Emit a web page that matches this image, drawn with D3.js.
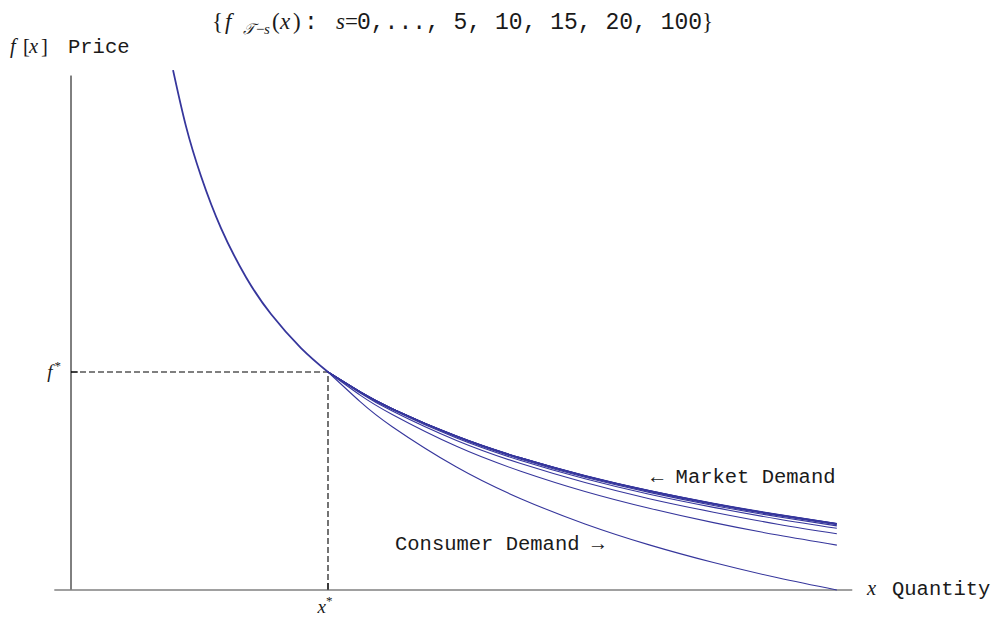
<!DOCTYPE html>
<html>
<head>
<meta charset="utf-8">
<script src="https://cdn.jsdelivr.net/npm/d3@7"></script>
<style>
  body { margin: 0; background: #fff; }
  svg { display: block; }
</style>
</head>
<body>
<svg id="chart" width="993" height="618"></svg>
<script>
// ---- data -------------------------------------------------------------
// Shared part of every demand curve, left of the kink (x* = 1, f* = 1)
const upperX = [0.397, 0.447, 0.506, 0.584, 0.681, 0.778, 0.895, 1];
const upperF = [2.385, 2.129, 1.898, 1.659, 1.435, 1.266, 1.11, 1];

// Quantity grid for the branches right of the kink
const branchX = [1, 1.125, 1.25, 1.5, 1.75, 2, 2.25, 2.5, 2.75, 2.98];

// Look-ahead horizons s and the price along each branch
const sValues = [0, 1, 2, 3, 4, 5, 10, 15, 20, 100];
const branchF0   = [1, 0.864, 0.749, 0.564, 0.419, 0.303, 0.207, 0.126, 0.056, 0.0];
const branchF1   = [1, 0.894, 0.805, 0.659, 0.545, 0.452, 0.375, 0.309, 0.252, 0.206];
const branchF2   = [1, 0.904, 0.821, 0.686, 0.580, 0.493, 0.419, 0.357, 0.302, 0.258];
const branchF3   = [1, 0.907, 0.827, 0.697, 0.594, 0.510, 0.439, 0.379, 0.326, 0.283];
const branchF4   = [1, 0.908, 0.830, 0.702, 0.600, 0.517, 0.448, 0.388, 0.336, 0.294];
const branchF5   = [1, 0.909, 0.831, 0.704, 0.603, 0.521, 0.452, 0.392, 0.341, 0.299];
const branchF10  = [1, 0.909, 0.832, 0.705, 0.605, 0.523, 0.454, 0.395, 0.344, 0.302];
const branchF15  = [1, 0.909, 0.832, 0.706, 0.606, 0.524, 0.455, 0.396, 0.345, 0.304];
const branchF20  = [1, 0.910, 0.832, 0.706, 0.606, 0.524, 0.456, 0.397, 0.346, 0.305];
const branchF100 = [1, 0.910, 0.832, 0.706, 0.606, 0.525, 0.456, 0.398, 0.347, 0.305];
const branches = [branchF0, branchF1, branchF2, branchF3, branchF4,
                  branchF5, branchF10, branchF15, branchF20, branchF100];

// Equilibrium point and axis tick labels
const xStar = 1, fStar = 1;
const xTickLabels = ["x"];
const yTickLabels = ["f"];
const sList = "0,..., 5, 10, 15, 20, 100";

// ---- layout ------------------------------------------------------------
const svg = d3.select("#chart");
const x = d3.scaleLinear().domain([0, 3]).range([71, 842]);
const y = d3.scaleLinear().domain([0, 2.39]).range([590, 69]);

const curveColor = "#36369c";
const mono = "'Nimbus Mono PS', 'Courier New', Courier, 'Liberation Mono', monospace";
const serif = "'Liberation Serif', 'Times New Roman', serif";
const ink = "#1a1a1a";

// axes
svg.append("line")
  .attr("x1", x(0)).attr("x2", x(0))
  .attr("y1", y(2.36)).attr("y2", y(0))
  .attr("stroke", "#000").attr("stroke-width", 1);
svg.append("line")
  .attr("x1", x(-0.065)).attr("x2", x(3.04))
  .attr("y1", y(0)).attr("y2", y(0))
  .attr("stroke", "#808080").attr("stroke-width", 1.6);

// equilibrium ticks
svg.append("line")
  .attr("x1", x(0)).attr("x2", x(0) + 7)
  .attr("y1", y(fStar)).attr("y2", y(fStar))
  .attr("stroke", "#000").attr("stroke-width", 1);
svg.append("line")
  .attr("x1", x(xStar)).attr("x2", x(xStar))
  .attr("y1", y(0)).attr("y2", y(0) - 7)
  .attr("stroke", "#000").attr("stroke-width", 1);

// dashed guides to the equilibrium
svg.append("path")
  .attr("d", `M${x(0)},${y(fStar)}H${x(xStar)}V${y(0)}`)
  .attr("fill", "none").attr("stroke", "#000")
  .attr("stroke-width", 1.1).attr("stroke-dasharray", "6,3");

// curves
const line = d3.line().x(d => x(d[0])).y(d => y(d[1])).curve(d3.curveNatural);
const g = svg.append("g").attr("fill", "none").attr("stroke", curveColor);
branches.forEach(fv => {
  g.append("path")
    .attr("d", line(branchX.map((v, i) => [v, fv[i]])))
    .attr("stroke-width", 1.1);
});
g.append("path")
  .attr("d", line(upperX.map((v, i) => [v, upperF[i]])))
  .attr("stroke-width", 1.8);

// ---- text --------------------------------------------------------------
// helper: a text run at an absolute x position
function run(parent, xPos, str, opts = {}) {
  const t = parent.append("tspan").attr("x", xPos).text(str);
  if (opts.family) t.attr("font-family", opts.family);
  if (opts.italic) t.attr("font-style", "italic");
  if (opts.size) t.attr("font-size", opts.size);
  if (opts.dy) t.attr("dy", opts.dy);
  return t;
}

// title: {f_{T-s}(x): s=0,..., 5, 10, 15, 20, 100}
const t0 = 212;
const adv = 13.8;   // monospace advance at 23px
const title = svg.append("text").attr("y", 29)
  .attr("font-family", mono).attr("font-size", 23).attr("fill", ink);
run(title, t0, "{", { family: serif });
run(title, t0 + 13, "f", { family: serif, italic: true });
run(title, t0 + 31, "\uD835\uDCAF", { family: serif, italic: true, size: 15, dy: 5 });
run(title, t0 + 44, "\u2212", { family: serif, size: 15 });
run(title, t0 + 52, "s", { family: serif, italic: true, size: 15 });
run(title, t0 + 60, "(", { family: serif, dy: -5 });
run(title, t0 + 68, "x", { family: serif, italic: true });
run(title, t0 + 81, ")", { family: serif });
run(title, t0 + 92, ":");
run(title, t0 + 124, "s", { family: serif, italic: true });
run(title, t0 + 133, "=", { family: serif });
run(title, t0 + 145, sList);
run(title, t0 + 145 + sList.length * adv, "}", { family: serif });

// y axis label
const yl = svg.append("text").attr("y", 53)
  .attr("font-family", mono).attr("font-size", 20.5).attr("fill", ink);
run(yl, 10, "f", { family: serif, italic: true });
run(yl, 23, "[", { family: serif });
run(yl, 29, "x", { family: serif, italic: true });
run(yl, 41, "]", { family: serif });
run(yl, 68, "Price");

// x axis label
const xl = svg.append("text").attr("y", 595)
  .attr("font-family", mono).attr("font-size", 20.5).attr("fill", ink);
run(xl, 867, "x", { family: serif, italic: true });
run(xl, 892, "Quantity");

// equilibrium tick labels
const ft = svg.append("text").attr("x", x(0) - 10).attr("y", y(fStar) + 6)
  .attr("text-anchor", "end").attr("font-family", serif).attr("fill", ink)
  .attr("font-size", 19).attr("font-style", "italic");
ft.append("tspan").text(yTickLabels[0]);
ft.append("tspan").attr("font-size", 13).attr("dy", -8).attr("dx", 2)
  .attr("font-style", "normal").text("*");

const xt = svg.append("text").attr("x", x(xStar) - 3).attr("y", y(0) + 23)
  .attr("text-anchor", "middle").attr("font-family", serif).attr("fill", ink)
  .attr("font-size", 19).attr("font-style", "italic");
xt.append("tspan").text(xTickLabels[0]);
xt.append("tspan").attr("font-size", 13).attr("dy", -8)
  .attr("font-style", "normal").text("*");

// curve annotations
svg.append("text").attr("x", 651).attr("y", 483)
  .attr("font-family", mono).attr("font-size", 20.5).attr("fill", ink)
  .text("\u2190 Market Demand");
svg.append("text").attr("x", 395).attr("y", 550)
  .attr("font-family", mono).attr("font-size", 20.5).attr("fill", ink)
  .text("Consumer Demand \u2192");
</script>
</body>
</html>
